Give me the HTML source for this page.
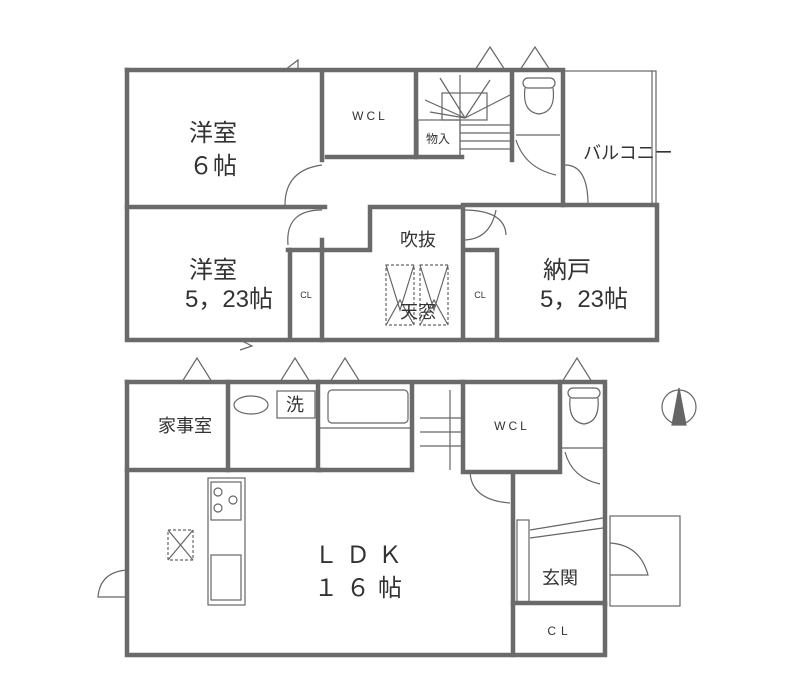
<!DOCTYPE html>
<html><head><meta charset="utf-8"><style>
html,body{margin:0;padding:0;background:#fff;}
svg{display:block;}
text{font-family:"Liberation Sans","Noto Sans CJK JP",sans-serif;fill:#333;}
</style></head><body>
<svg width="807" height="695" viewBox="0 0 807 695" xmlns="http://www.w3.org/2000/svg">
<g fill="none" stroke="#666" stroke-width="1.2">
<rect x="563" y="71" width="93" height="135"/>
<line x1="652" y1="71" x2="652" y2="206"/>
<line x1="460" y1="75" x2="460" y2="157"/>
<line x1="460" y1="125" x2="510" y2="125"/>
<line x1="460" y1="133" x2="510" y2="133"/>
<line x1="460" y1="141" x2="510" y2="141"/>
<line x1="460" y1="149" x2="510" y2="149"/>
<rect x="442" y="93" width="45" height="27"/>
<line x1="465" y1="118" x2="425" y2="100"/>
<line x1="465" y1="118" x2="440" y2="78"/>
<line x1="465" y1="118" x2="490" y2="80"/>
<line x1="465" y1="118" x2="510" y2="95"/>
<line x1="465" y1="118" x2="430" y2="112"/>
<rect x="418" y="120" width="42" height="37"/>
<rect x="523" y="78" width="32" height="10" rx="5"/>
<path d="M525 88 Q522 112 539 114 Q556 112 553 88"/>
<line x1="516" y1="135" x2="560" y2="135"/>
<path d="M516 140 Q525 168 556 175"/>
<path d="M565 165 Q588 165 588 205"/>
<path d="M322 165 Q285 170 285 205"/>
<path d="M322 210 Q285 210 288 245"/>
<path d="M463 210 Q505 210 506 235"/>
<path d="M463 240 Q490 240 496 210"/>
<rect x="386" y="265" width="28" height="60" stroke-dasharray="3 2"/>
<rect x="420" y="265" width="28" height="60" stroke-dasharray="3 2"/>
<path d="M386 265 L400 310 L414 265 M386 325 L400 300 L414 325"/>
<path d="M420 265 L434 310 L448 265 M420 325 L434 300 L448 325"/>
<path d="M475 70 L490 47 L505 70"/>
<path d="M520 70 L535 47 L550 70"/>
<path d="M285 70 L298 60 L298 72"/>
<path d="M240 340 L252 346 L240 350"/>
<path d="M182 382 L197 358 L212 382"/>
<path d="M280 382 L295 358 L310 382"/>
<path d="M330 382 L345 358 L360 382"/>
<path d="M562 382 L577 358 L592 382"/>
<ellipse cx="251" cy="405" rx="17" ry="9"/>
<rect x="277" y="391" width="38" height="27"/>
<rect x="328" y="390" width="80" height="33" rx="4"/>
<line x1="318" y1="428" x2="412" y2="428"/>
<line x1="420" y1="418" x2="463" y2="418"/>
<line x1="420" y1="432" x2="463" y2="432"/>
<line x1="420" y1="446" x2="463" y2="446"/>
<line x1="450" y1="390" x2="450" y2="470"/>
<rect x="568" y="388" width="32" height="10" rx="5"/>
<path d="M570 398 Q568 422 584 424 Q600 422 598 398"/>
<line x1="562" y1="448" x2="605" y2="448"/>
<path d="M565 452 Q572 478 600 484"/>
<path d="M470 470 Q470 500 510 503"/>
<rect x="208" y="478" width="37" height="127"/>
<rect x="211" y="482" width="30" height="38"/>
<circle cx="218" cy="492" r="4"/><circle cx="218" cy="508" r="4"/><circle cx="233" cy="500" r="4"/>
<rect x="211" y="555" width="30" height="45"/>
<rect x="168" y="530" width="25" height="30" stroke-dasharray="3 2"/>
<path d="M168 530 L193 560 M193 530 L168 560"/>
<rect x="517" y="520" width="12" height="82"/>
<path d="M530 530 L603 518 M530 538 L603 528"/>
<rect x="610" y="516" width="70" height="90"/>
<path d="M610 543 Q640 545 648 575 L610 575"/>
<path d="M127 570 Q100 572 98 597 L127 597"/>
<circle cx="679" cy="407" r="17"/>
<path d="M679 388 L672 425 L686 425 Z" fill="#666"/>
</g>
<g fill="none" stroke="#6a6a6a" stroke-width="4.5" stroke-linecap="square">
<path d="M127 70 H563 V205"/>
<path d="M127 70 V340 H657 V205 H463"/>
<path d="M127 207 H325"/>
<path d="M322 72 V160"/>
<path d="M322 240 V340"/>
<path d="M327 157 H462"/>
<path d="M416 72 V157"/>
<path d="M512 72 V160"/>
<path d="M325 250 H370 V207 H463 V338"/>
<path d="M288 250 H322"/>
<path d="M465 250 H497 V338"/>
<path d="M290 250 V338"/>
<path d="M127 382 H605 V605"/>
<path d="M127 382 V655 H605 V605"/>
<path d="M127 470 H320"/>
<path d="M228 382 V470"/>
<path d="M318 382 V470 H412 V385"/>
<path d="M463 382 V472 H560 V382"/>
<path d="M513 475 V655"/>
<path d="M513 603 H605"/>
</g>
<g font-size="24">
<text x="213" y="141" text-anchor="middle">洋室</text>
<text x="213" y="174" text-anchor="middle">６帖</text>
<text x="213" y="278" text-anchor="middle">洋室</text>
<text x="229" y="307" text-anchor="middle">5，23帖</text>
<text x="567" y="278" text-anchor="middle">納戸</text>
<text x="584" y="307" text-anchor="middle">5，23帖</text>
<text x="362" y="563" text-anchor="middle" letter-spacing="8">ＬＤＫ</text>
<text x="362" y="596" text-anchor="middle" letter-spacing="8">１６帖</text>
</g>
<g font-size="18">
<text x="418" y="246" text-anchor="middle">吹抜</text>
<text x="418" y="318" text-anchor="middle">天窓</text>
<text x="628" y="159" text-anchor="middle">バルコニー</text>
<text x="185" y="432" text-anchor="middle">家事室</text>
<text x="295" y="411" text-anchor="middle">洗</text>
<text x="560" y="584" text-anchor="middle">玄関</text>
</g>
<g font-size="12">
<text x="370" y="120" text-anchor="middle" letter-spacing="3">WCL</text>
<text x="512" y="430" text-anchor="middle" letter-spacing="3">WCL</text>
<text x="560" y="635" text-anchor="middle" letter-spacing="5">CL</text>
<text x="438" y="143" text-anchor="middle">物入</text>
</g>
<g font-size="9">
<text x="306" y="298" text-anchor="middle">CL</text>
<text x="480" y="298" text-anchor="middle">CL</text>
</g>
</svg>
</body></html>
